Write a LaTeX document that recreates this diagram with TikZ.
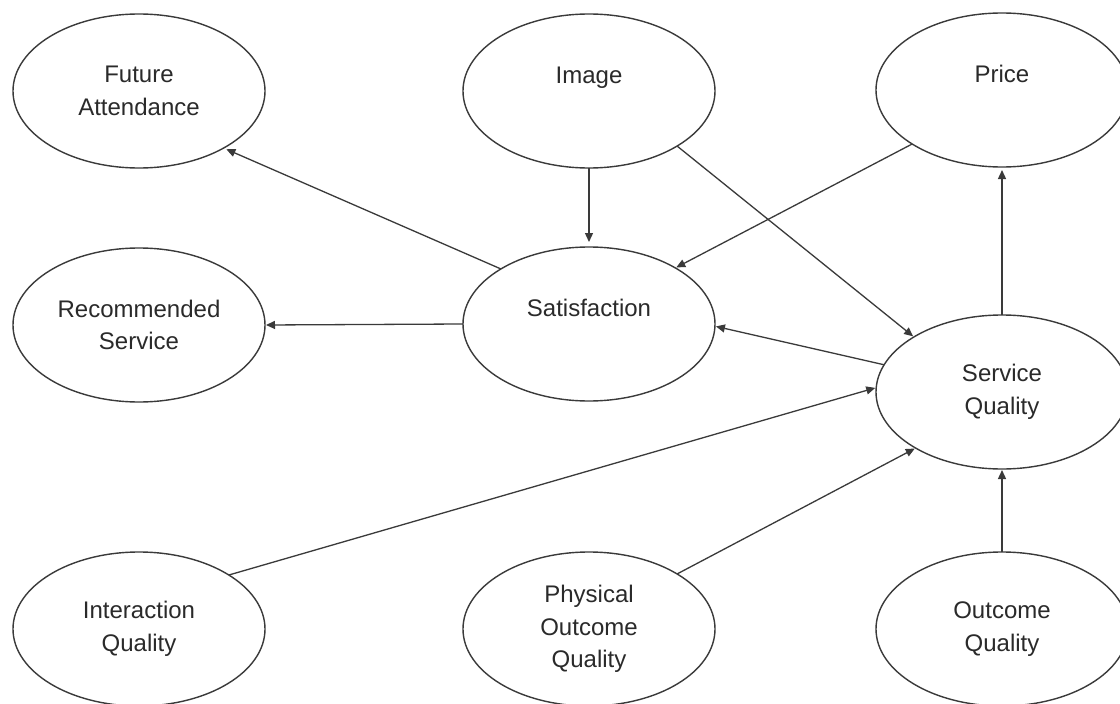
\documentclass[tikz,border=0pt]{standalone}
\usepackage{fontspec}
\setmainfont{Liberation Sans}
\usetikzlibrary{shapes.geometric,arrows.meta}
\definecolor{ink}{HTML}{3A3A3A}
\definecolor{txt}{HTML}{2A2A2A}
\tikzset{
  construct/.style={ellipse, draw=ink, line width=1.4pt, fill=white,
    minimum width=252pt, minimum height=154pt, inner sep=0pt, outer sep=0pt,
    align=center, text=txt, font=\fontsize{24}{32.5}\selectfont},
  path link/.style={draw=ink, line width=1.3pt,
    -{Triangle[length=9pt,width=8pt]}, shorten >=1pt}
}
\begin{document}
\begin{tikzpicture}[x=1pt,y=-1pt]
  \useasboundingbox (0,0) rectangle (1120,704);
  \clip (0,0) rectangle (1120,704);
  \fill[white] (0,0) rectangle (1120,704);

  % top row
  \node[construct] (fa)    at (139,91)  {Future\\Attendance};
  \node[construct] (img)   at (589,91)  {Image\\\mbox{}};
  \node[construct] (price) at (1002,90) {Price\\\mbox{}};
  % middle row
  \node[construct] (rs)    at (139,325) {Recommended\\Service};
  \node[construct] (sat)   at (589,324) {Satisfaction\\\mbox{}};
  \node[construct] (sq)    at (1002,392) {Service\\Quality};
  % bottom row
  \node[construct] (iq)    at (139,629) {Interaction\\Quality};
  \node[construct] (poq)   at (589,629) {Physical\\Outcome\\Quality};
  \node[construct] (oq)    at (1002,629) {Outcome\\Quality};

  % paths
  \draw[path link, shorten >=3pt] (sat.148.7) -- (fa.-34);
  \draw[path link] (sat.180) -- (rs.0);
  \draw[path link, shorten >=5pt] (img.south) -- (sat.north);
  \draw[path link] (img.-32.5) -- (sq.148.6);
  \draw[path link] (price.211.4) -- (sat.33.5);
  \draw[path link, shorten >=3pt] (sq.north) -- (price.south);
  \draw[path link] (sq.167) -- (sat.-1.4);
  \draw[path link] (iq.31.2) -- (sq.178);
  \draw[path link] (poq.32.5) -- (sq.213.1);
  \draw[path link] (oq.north) -- (sq.south);
\end{tikzpicture}
\end{document}
